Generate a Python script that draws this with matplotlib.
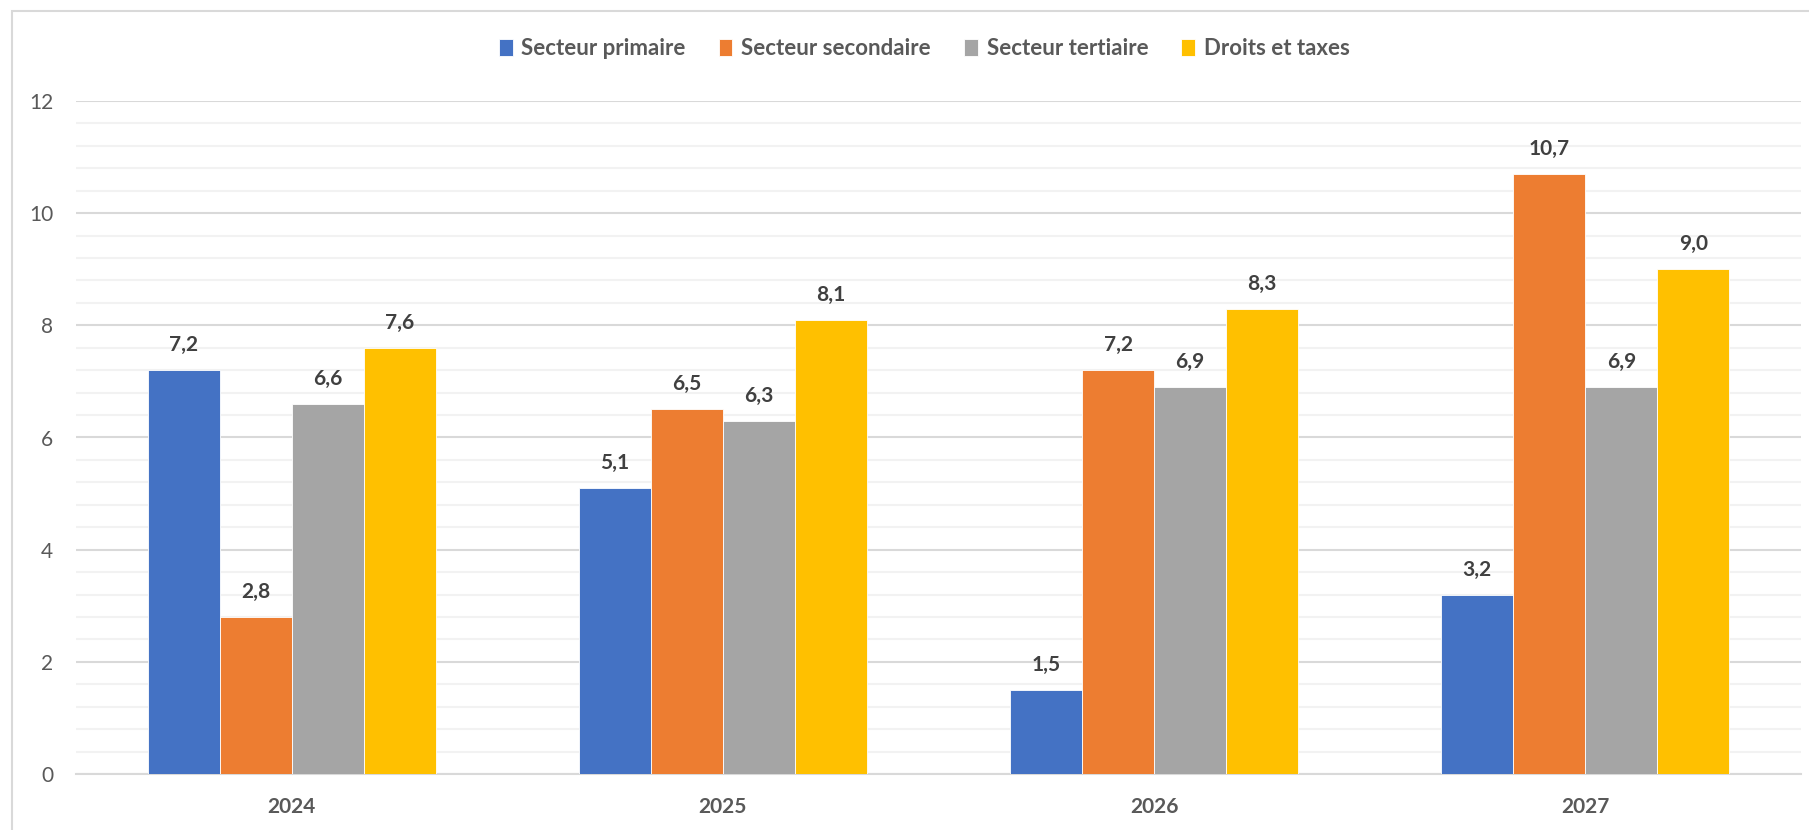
import matplotlib
matplotlib.use("Agg")
import matplotlib.pyplot as plt
import numpy as np
from matplotlib.patches import Rectangle

years = ["2024", "2025", "2026", "2027"]
series_names = ["Secteur primaire", "Secteur secondaire", "Secteur tertiaire", "Droits et taxes"]
primaire = [7.2, 5.1, 1.5, 3.2]
secondaire = [2.8, 6.5, 7.2, 10.7]
tertiaire = [6.6, 6.3, 6.9, 6.9]
droits = [7.6, 8.1, 8.3, 9.0]
colors = ["#4472C4", "#ED7D31", "#A5A5A5", "#FFC000"]

plt.rcParams['font.family'] = ['Lato', 'DejaVu Sans']

fig = plt.figure(figsize=(18.09, 8.30), dpi=100)
ax = fig.add_axes([76/1809, 1-774/830, (1801-76)/1809, (774-101)/830])

series = [primaire, secondaire, tertiaire, droits]
x = np.arange(len(years))
group = 0.668
w = group / 4
for i, (vals, name, c) in enumerate(zip(series, series_names, colors)):
    pos = x - group/2 + w*(i+0.5)
    ax.bar(pos, vals, width=w, color=c, edgecolor="white", linewidth=0.6, label=name, zorder=3)
    for p, v in zip(pos, vals):
        ax.annotate(f"{v:.1f}".replace(".", ","), (p, v), xytext=(0, 18), textcoords="offset points",
                    ha="center", va="center", fontsize=15, fontweight="bold", color="#404040")

ax.set_xlim(-0.5, 3.5)
ax.set_ylim(0, 12)
ax.set_yticks(np.arange(0, 13, 2))
ax.set_yticks(np.arange(0, 12.01, 0.4), minor=True)
ax.grid(axis="y", which="major", color="#d9d9d9", linewidth=1.5, zorder=0)
ax.grid(axis="y", which="minor", color="#f2f2f2", linewidth=1.5, zorder=0)
ax.set_axisbelow(True)
for s in ["top", "right", "left"]:
    ax.spines[s].set_visible(False)
ax.spines["bottom"].set_color("#d9d9d9")
ax.spines["bottom"].set_linewidth(1.5)
ax.set_xticks(x)
ax.set_xticklabels(years, fontsize=15, fontweight="bold", color="#595959")
ax.tick_params(axis="x", length=0, pad=16.5)
ax.tick_params(axis="y", which="both", length=0, pad=16.5, labelsize=15, labelcolor="#595959")

leg = fig.legend(loc="center", bbox_to_anchor=(0.511, 0.941), ncol=4, frameon=False,
                 prop={"size": 16, "weight": "bold"}, handlelength=0.6, handleheight=0.8,
                 handletextpad=0.4, columnspacing=1.5)
for t in leg.get_texts():
    t.set_color("#595959")

fig.patches.append(Rectangle((12/1809, -0.05), 1.1, 1-11/830+0.05, transform=fig.transFigure,
                             fill=False, edgecolor="#d9d9d9", linewidth=1.5))

fig.savefig("out.png", dpi=100)
